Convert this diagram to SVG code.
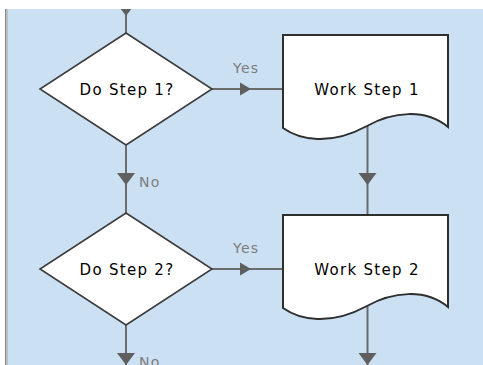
<svg xmlns="http://www.w3.org/2000/svg" width="483" height="365" viewBox="0 0 483 365">
<defs>
<style>
.bg{fill:#cbe0f3}
.conn{stroke:#6b6b6b;stroke-width:2;fill:none}
.head{fill:#5f5f5f}
.dia{fill:#ffffff;stroke:#3c3c3c;stroke-width:1.6}
.doc{fill:#ffffff;stroke:#2e2e2e;stroke-width:2}
.ntext{font-family:"DejaVu Sans",sans-serif;font-size:15px;letter-spacing:1.3px;fill:#000;text-anchor:middle}
.ltext{font-family:"DejaVu Sans",sans-serif;font-size:14px;letter-spacing:1.2px;fill:#7d7d7d}
</style>
</defs>
<rect x="0" y="0" width="483" height="365" fill="#ffffff"/>
<rect class="bg" x="7" y="9" width="476" height="356"/>
<rect x="5" y="9" width="1.5" height="356" fill="#8a8a8a"/>
<rect x="6.5" y="9" width="1.2" height="356" fill="#b4b4b4"/>

<g id="connectors">
<path class="conn" d="M126,9 V33"/>
<path class="head" d="M117,4 H135 L126,16 Z"/>
<path class="conn" d="M126,145 V214"/>
<path class="head" d="M117,173 H135 L126,185 Z"/>
<text class="ltext" x="139" y="187">No</text>
<path class="conn" d="M212,89 H283"/>
<path class="head" d="M240,82.5 L251,89 L240,95.5 Z"/>
<text class="ltext" x="233" y="73">Yes</text>
<path class="conn" d="M367.5,126 V215"/>
<path class="head" d="M358.5,173 H376.5 L367.5,185 Z"/>
<path class="conn" d="M212,269 H283"/>
<path class="head" d="M240,262.5 L251,269 L240,275.5 Z"/>
<text class="ltext" x="233" y="253">Yes</text>
<path class="conn" d="M126,325 V365"/>
<path class="head" d="M117,353 H135 L126,365 Z"/>
<text class="ltext" x="139" y="367">No</text>
<path class="conn" d="M367.5,306 V365"/>
<path class="head" d="M358.5,353 H376.5 L367.5,365 Z"/>
</g>
<rect x="0" y="0" width="483" height="9" fill="#ffffff"/>

<g id="decision1">
<path class="dia" d="M126,33 L212,89 L126,145 L40,89 Z"/>
<text class="ntext" x="127" y="95">Do Step 1?</text>
</g>
<g id="work1">
<path class="doc" d="M283,35 H448 V127 C425,108 392,112 367,126 C330,146 300,140 283,128 Z"/>
<text class="ntext" x="367" y="95">Work Step 1</text>
</g>
<g id="decision2">
<path class="dia" d="M126,213 L212,269 L126,325 L40,269 Z"/>
<text class="ntext" x="127" y="275">Do Step 2?</text>
</g>
<g id="work2">
<path class="doc" d="M283,215 H448 V307 C425,288 392,292 367,306 C330,326 300,320 283,308 Z"/>
<text class="ntext" x="367" y="275">Work Step 2</text>
</g>
</svg>
